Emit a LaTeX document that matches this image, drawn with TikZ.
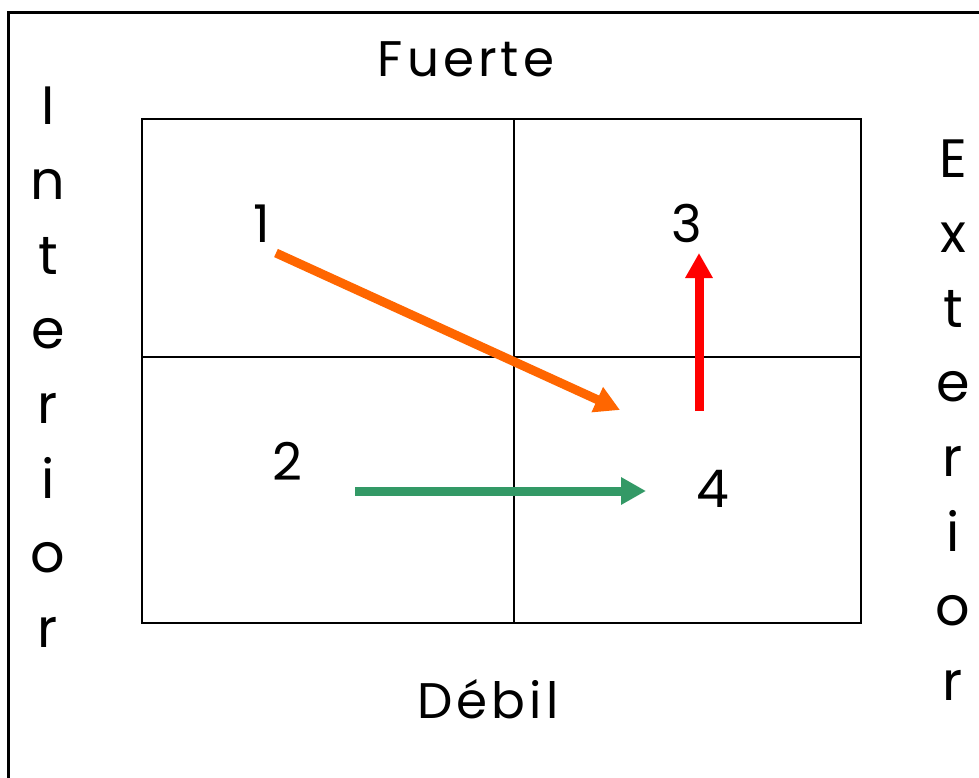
\documentclass[tikz,border=0pt]{standalone}
\usepackage{fontspec}
\setmainfont{Poppins}
\usetikzlibrary{arrows.meta}
\definecolor{cuadorange}{HTML}{FF6600}
\definecolor{cuadred}{HTML}{FF0000}
\definecolor{cuadgreen}{HTML}{339966}

\begin{document}
\begin{tikzpicture}[x=1pt,y=-1pt,line join=miter,
  move/.style={line width=9pt,-{Triangle[width=26pt,length=25pt]}},
  tag/.style={font=\fontsize{52}{52}\selectfont,anchor=base,inner sep=0pt},
  axis/.style={font=\fontsize{50}{50}\selectfont\addfontfeatures{LetterSpace=8},anchor=base,inner sep=0pt},
  side/.style={font=\fontsize{54}{54}\selectfont,anchor=base,inner sep=0pt}]
\path[use as bounding box] (0,0) rectangle (979,778);
\fill[white] (0,0) rectangle (979,778);
% marco exterior (abierto a la derecha y abajo)
\draw[line width=3pt] (8,790) -- (8,13) -- (990,13);
% cuadrantes
\draw[line width=1.6pt] (142,119) rectangle (861,623);
\draw[line width=1.6pt] (514,119) -- (514,623);
\draw[line width=1.6pt] (142,357) -- (861,357);
% textos de los ejes
\node[axis] (fuerte) at (466,77) {Fuerte};
\node[axis] (debil) at (488,718) {Débil};
\foreach \l [count=\i] in {I,n,t,e,r,i,o,r}
  \node[side] (int\i) at (48,{125+74.6*(\i-1)}) {\l};
\foreach \l [count=\i] in {E,x,t,e,r,i,o,r}
  \node[side] (ext\i) at (953,{178+74.6*(\i-1)}) {\l};
% posiciones
\node[tag] (p1) at (262,242) {1};
\node[tag] (p2) at (287,480) {2};
\node[tag] (p3) at (687,242) {3};
\node[tag] (p4) at (713,507) {4};
% movimientos
\coordinate (o1) at (276,253);
\coordinate (o2) at (620,410);
\coordinate (g1) at (355,491);
\coordinate (g2) at (646,491);
\coordinate (r1) at (699,411);
\coordinate (r2) at (699,253);
\draw[move,cuadorange] (o1) -- (o2);
\draw[move,cuadgreen] (g1) -- (g2);
\draw[move,cuadred] (r1) -- (r2);
\end{tikzpicture}
\end{document}
